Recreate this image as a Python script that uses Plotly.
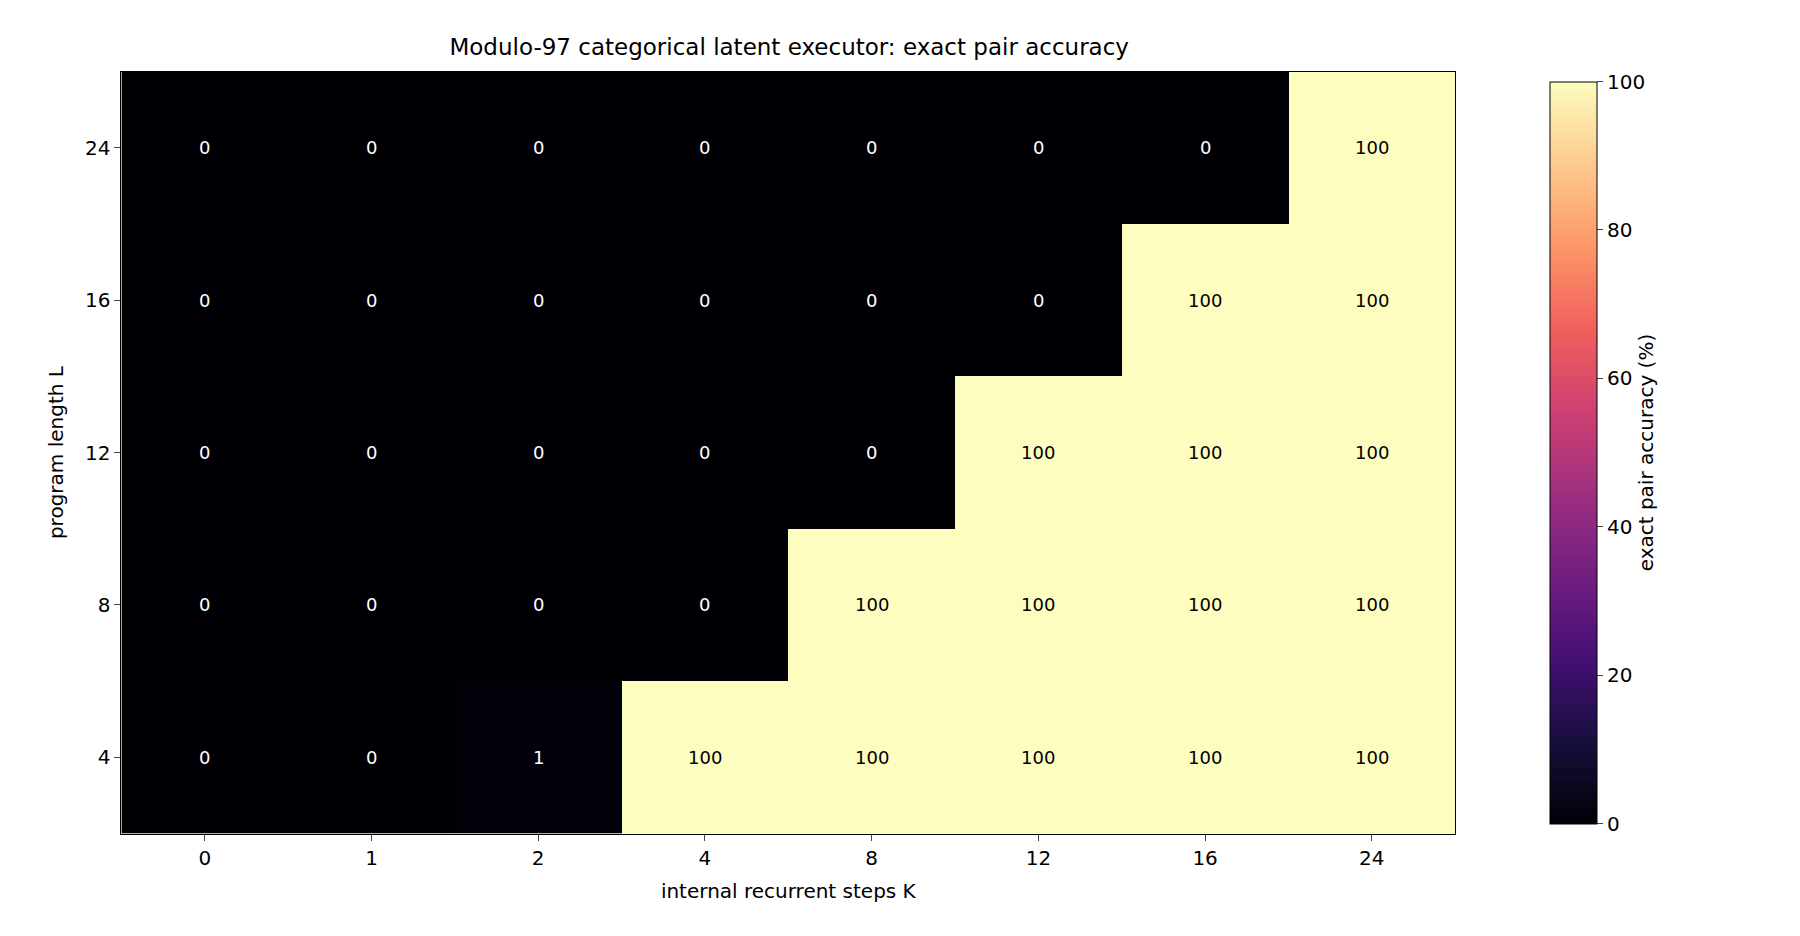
import plotly.graph_objects as go

k_labels = ["0", "1", "2", "4", "8", "12", "16", "24"]
l_labels = ["4", "8", "12", "16", "24"]
acc = [
    [0, 0, 1, 100, 100, 100, 100, 100],
    [0, 0, 0, 0, 100, 100, 100, 100],
    [0, 0, 0, 0, 0, 100, 100, 100],
    [0, 0, 0, 0, 0, 0, 100, 100],
    [0, 0, 0, 0, 0, 0, 0, 100],
]

W, H = 1800, 936
fig = go.Figure(go.Heatmap(
    z=acc, x=list(range(len(k_labels))), y=list(range(len(l_labels))),
    colorscale="Magma", zmin=0, zmax=100,
    colorbar=dict(title=dict(text="exact pair accuracy (%)", side="right", font=dict(size=20)),
                  x=0.851, xanchor="left", y=0.118, yanchor="bottom", len=0.814,
                  thickness=0.026 * W, outlinewidth=1, outlinecolor="black",
                  tickvals=[0, 20, 40, 60, 80, 100], ticks="outside", ticklen=6,
                  tickfont=dict(size=20)),
))
for i, row in enumerate(acc):
    for j, v in enumerate(row):
        fig.add_annotation(x=j, y=i, text=str(v), showarrow=False,
                           font=dict(size=18, color="black" if v > 50 else "white"))
fig.update_layout(
    width=W, height=H, paper_bgcolor="white", plot_bgcolor="white",
    font=dict(family="DejaVu Sans", color="black"),
    margin=dict(l=0, r=0, t=0, b=0),
    title=dict(text="Modulo-97 categorical latent executor: exact pair accuracy",
               x=0.434, xanchor="center", y=0.958, yanchor="middle", font=dict(size=23)),
    xaxis=dict(domain=[0.063, 0.804], tickvals=list(range(len(k_labels))), ticktext=k_labels,
               range=[-0.5, 7.5], showgrid=False, zeroline=False, ticks="outside", ticklen=6,
               showline=True, linecolor="black", mirror=True, tickfont=dict(size=20),
               title=dict(text="internal recurrent steps K", font=dict(size=20))),
    yaxis=dict(domain=[0.118, 0.932], tickvals=list(range(len(l_labels))), ticktext=l_labels,
               range=[-0.5, 4.5], showgrid=False, zeroline=False, ticks="outside", ticklen=6,
               showline=True, linecolor="black", mirror=True, tickfont=dict(size=20),
               title=dict(text="program length L", font=dict(size=20))),
)
fig.write_html("out.html")
